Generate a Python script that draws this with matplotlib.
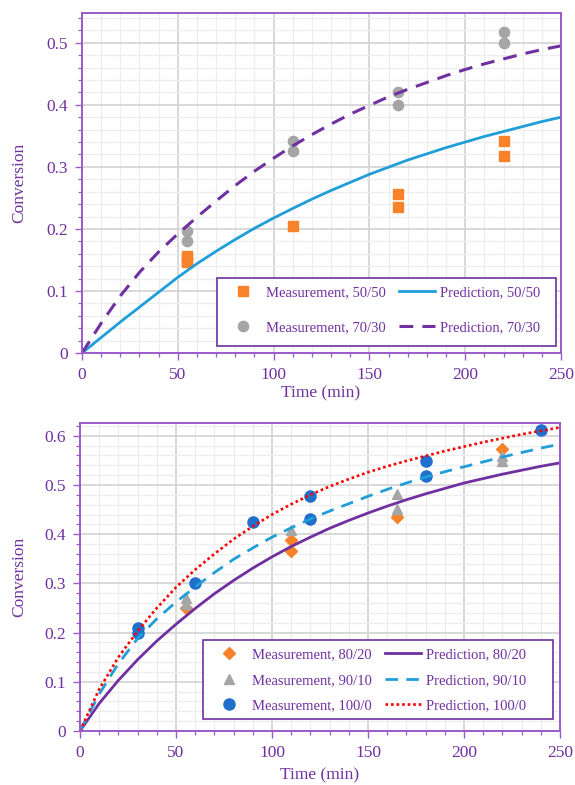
import matplotlib
matplotlib.use("Agg")
import matplotlib.pyplot as plt
from matplotlib.patches import Rectangle
from matplotlib.ticker import MultipleLocator

plt.rcParams["font.family"] = ["Liberation Serif", "DejaVu Serif"]

PURPLE = "#7030A0"
SPINE = "#9B5BC8"

# ---------------------------------------------------------------- top panel data
T_PRED = [0, 10, 20, 30, 40, 50, 60, 70, 80, 90, 100, 110, 120, 130, 140, 150,
          160, 170, 180, 190, 200, 210, 220, 230, 240, 250]
PRED_5050 = [0, 0.025, 0.050, 0.074, 0.098, 0.122, 0.144, 0.164, 0.183, 0.201, 0.2175,
             0.233, 0.248, 0.262, 0.275, 0.288, 0.2995, 0.311, 0.321, 0.331, 0.340,
             0.349, 0.357, 0.365, 0.373, 0.380]
PRED_7030 = [0, 0.048, 0.092, 0.130, 0.163, 0.192, 0.219, 0.245, 0.270, 0.293, 0.314,
             0.334, 0.352, 0.369, 0.385, 0.399, 0.413, 0.425, 0.436, 0.447, 0.457,
             0.466, 0.474, 0.482, 0.489, 0.495]
MEAS_5050_T = [55, 55, 55, 110, 165, 165, 220, 220]
MEAS_5050 = [0.157, 0.151, 0.146, 0.204, 0.256, 0.235, 0.342, 0.318]
MEAS_7030_T = [55, 55, 110, 110, 165, 165, 220, 220]
MEAS_7030 = [0.196, 0.181, 0.342, 0.325, 0.420, 0.399, 0.517, 0.500]

# ------------------------------------------------------------- bottom panel data
PRED_8020 = [0, 0.056, 0.103, 0.145, 0.183, 0.217, 0.249, 0.279, 0.306, 0.331, 0.354,
             0.375, 0.394, 0.412, 0.428, 0.443, 0.457, 0.470, 0.482, 0.493, 0.504,
             0.513, 0.522, 0.530, 0.538, 0.545]
PRED_9010 = [0, 0.075, 0.137, 0.188, 0.228, 0.262, 0.293, 0.322, 0.349, 0.372, 0.394,
             0.413, 0.431, 0.447, 0.462, 0.477, 0.491, 0.504, 0.516, 0.527, 0.537,
             0.547, 0.557, 0.566, 0.575, 0.583]
PRED_1000 = [0, 0.085, 0.150, 0.203, 0.250, 0.292, 0.328, 0.360, 0.390, 0.416, 0.440,
             0.461, 0.480, 0.497, 0.512, 0.526, 0.538, 0.549, 0.559, 0.569, 0.578,
             0.587, 0.595, 0.603, 0.610, 0.617]
MEAS_8020_T = [55, 110, 110, 165, 220]
MEAS_8020 = [0.249, 0.388, 0.366, 0.434, 0.574]
MEAS_9010_T = [55, 55, 110, 165, 165, 220, 220]
MEAS_9010 = [0.270, 0.259, 0.409, 0.482, 0.451, 0.559, 0.549]
MEAS_1000_T = [30, 30, 60, 90, 120, 120, 180, 180, 240]
MEAS_1000 = [0.209, 0.200, 0.300, 0.424, 0.478, 0.430, 0.549, 0.519, 0.612]


def style_axes(ax, ymax):
    ax.set_xlim(0, 250)
    ax.set_ylim(0, ymax)
    ax.xaxis.set_major_locator(MultipleLocator(50))
    ax.xaxis.set_minor_locator(MultipleLocator(10))
    ax.yaxis.set_major_locator(MultipleLocator(0.1))
    ax.yaxis.set_minor_locator(MultipleLocator(0.02))
    ax.set_axisbelow(True)
    ax.grid(which="major", color="#D6D6D6", lw=1.3)
    ax.grid(which="minor", color="#EDEDED", lw=0.9)
    for s in ax.spines.values():
        s.set_color(SPINE)
        s.set_linewidth(1.4)
    ax.tick_params(which="major", direction="out", length=5, width=1.0,
                   color=SPINE, labelcolor=PURPLE, labelsize=12.5)
    ax.tick_params(which="minor", direction="out", length=3, width=0.9, color=SPINE)
    ax.tick_params(axis="y", which="major", pad=5)
    ax.tick_params(axis="x", which="major", pad=5)
    ax.yaxis.set_major_formatter(lambda v, p: "0" if abs(v) < 1e-9 else f"{v:g}")


def boxed_legend(ax, handles, box, spacing):
    # Excel-style legend: fixed frame, entries packed from its top-left corner
    x0, y0, x1, y1 = box
    ax.add_patch(Rectangle((x0, y0), x1 - x0, y1 - y0, transform=ax.transAxes,
                           facecolor="white", edgecolor=PURPLE, lw=1.2, zorder=4))
    leg = ax.legend(handles=handles, ncol=2, loc="upper left",
                    bbox_to_anchor=(x0, y1), borderaxespad=0, fontsize=10.5,
                    handlelength=2.5, handletextpad=0.3, columnspacing=0.9,
                    labelspacing=spacing, borderpad=0.55, frameon=False,
                    labelcolor=PURPLE)
    leg.set_zorder(5)
    return leg


W, H = 575, 785
fig = plt.figure(figsize=(W / 100, H / 100), dpi=100)

# ---------------------------------------------------------------- top panel
ax1 = fig.add_axes([82 / W, 1 - 353 / H, 479 / W, 340 / H])
style_axes(ax1, 0.548)
m1, = ax1.plot(MEAS_5050_T, MEAS_5050, ls="none", marker="s", ms=7.2,
               color="#F7822A", label="Measurement, 50/50")
m2, = ax1.plot(MEAS_7030_T, MEAS_7030, ls="none", marker="o", ms=7.4,
               color="#A5A5A5", label="Measurement, 70/30")
p1, = ax1.plot(T_PRED, PRED_5050, color="#1F9ED9", lw=2.0, label="Prediction, 50/50")
p2, = ax1.plot(T_PRED, PRED_7030, color=PURPLE, lw=2.2, ls=(0, (4.5, 3)),
               label="Prediction, 70/30")
boxed_legend(ax1, [m1, m2, p1, p2],
             ((217 - 82) / 479, (353 - 346) / 340, (556 - 82) / 479, (353 - 278) / 340),
             1.5)

# ------------------------------------------------------------- bottom panel
ax2 = fig.add_axes([80 / W, 1 - 731 / H, 480 / W, 308 / H])
style_axes(ax2, 0.626)
n1, = ax2.plot(MEAS_8020_T, MEAS_8020, ls="none", marker="D", ms=5.8,
               color="#F7822A", label="Measurement, 80/20")
n2, = ax2.plot(MEAS_9010_T, MEAS_9010, ls="none", marker="^", ms=7.5,
               color="#A5A5A5", label="Measurement, 90/10")
n3, = ax2.plot(MEAS_1000_T, MEAS_1000, ls="none", marker="o", ms=8,
               color="#1F6FCC", label="Measurement, 100/0")
q1, = ax2.plot(T_PRED, PRED_8020, color=PURPLE, lw=2.0, label="Prediction, 80/20")
q2, = ax2.plot(T_PRED, PRED_9010, color="#1F9ED9", lw=2.0, ls=(0, (4.5, 3)),
               label="Prediction, 90/10")
q3, = ax2.plot(T_PRED, PRED_1000, color="#FF0000", lw=1.9, ls=(0, (1, 1.1)),
               label="Prediction, 100/0")
boxed_legend(ax2, [n1, n2, n3, q1, q2, q3],
             ((203 - 80) / 480, (731 - 719) / 308, (553 - 80) / 480, (731 - 640) / 308),
             0.85)

# ------------------------------------------------------------- axis titles
for yc in (183, 577):
    fig.text(19 / W, 1 - yc / H, "Conversion", rotation=90, ha="center",
             va="center", color=PURPLE, fontsize=12.5)
fig.text(321 / W, 1 - 393 / H, "Time (min)", ha="center", va="center",
         color=PURPLE, fontsize=12.5)
fig.text(320 / W, 1 - 775 / H, "Time (min)", ha="center", va="center",
         color=PURPLE, fontsize=12.5)

fig.savefig("out.png", dpi=100)
